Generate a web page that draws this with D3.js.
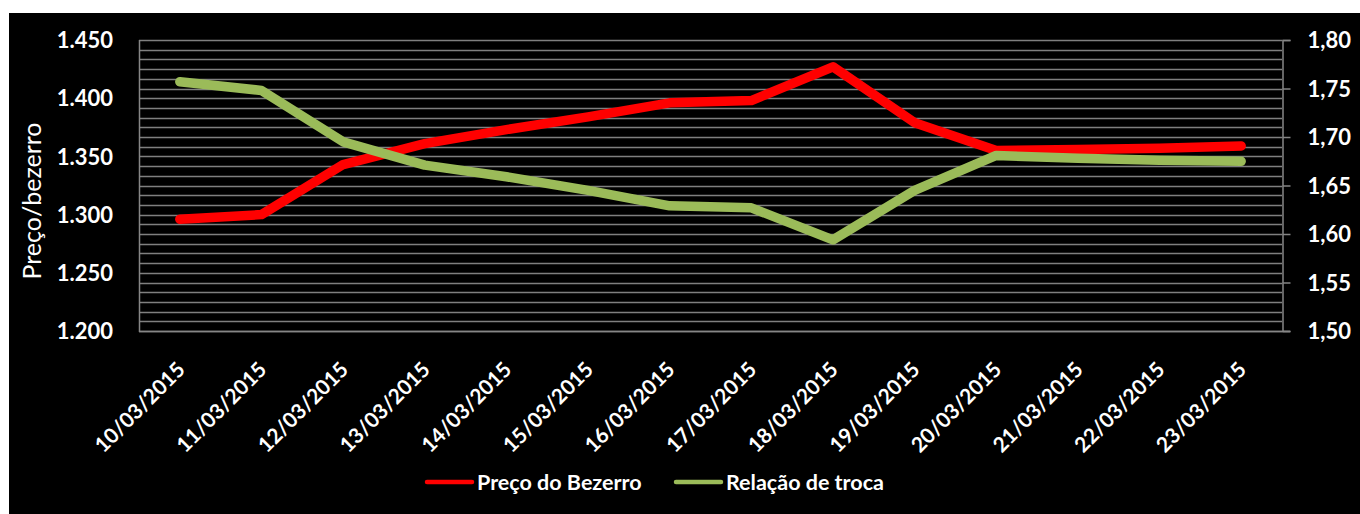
<!DOCTYPE html>
<html>
<head>
<meta charset="utf-8">
<script src="https://cdn.jsdelivr.net/npm/d3@7/dist/d3.min.js"></script>
<style>
  html, body { margin: 0; padding: 0; background: #ffffff; }
  svg { display: block; }
  text { font-family: Lato, "Open Sans", sans-serif; fill: #ffffff; }
</style>
</head>
<body>
<svg id="chart" width="1360" height="514"></svg>
<script>
const categories = ["10/03/2015","11/03/2015","12/03/2015","13/03/2015","14/03/2015","15/03/2015","16/03/2015","17/03/2015","18/03/2015","19/03/2015","20/03/2015","21/03/2015","22/03/2015","23/03/2015"];
const precoBezerro = [1296, 1300, 1343, 1361, 1373, 1384, 1396, 1398, 1427, 1379, 1355, 1356, 1357, 1359];
const relacaoTroca = [1.757, 1.748, 1.695, 1.671, 1.659, 1.645, 1.629, 1.627, 1.594, 1.645, 1.681, 1.678, 1.676, 1.675];
const leftTicks = [1200, 1250, 1300, 1350, 1400, 1450];
const leftTickLabels = ["1.200","1.250","1.300","1.350","1.400","1.450"];
const rightTicks = [1.50, 1.55, 1.60, 1.65, 1.70, 1.75, 1.80];
const rightTickLabels = ["1,50","1,55","1,60","1,65","1,70","1,75","1,80"];
const seriesNames = ["Preço do Bezerro", "Relação de troca"];
const seriesColors = ["#ff0000", "#9bbb59"];
const yTitle = "Preço/bezerro";

const svg = d3.select("#chart");
const plot = { left: 139, right: 1282, top: 40, bottom: 331 };

// black chart area
svg.append("rect").attr("x", 9).attr("y", 13).attr("width", 1351).attr("height", 501).attr("fill", "#000000");

const x = d3.scalePoint().domain(categories).range([plot.left, plot.right]).padding(0.5);
const yL = d3.scaleLinear().domain([1200, 1450]).range([plot.bottom, plot.top]);
const yR = d3.scaleLinear().domain([1.5, 1.8]).range([plot.bottom, plot.top]);

// gridlines (minor every 0.01 on right axis)
const gridVals = d3.range(0, 31).map(i => 1.5 + i * 0.01);
svg.append("g").selectAll("line").data(gridVals).join("line")
  .attr("x1", plot.left).attr("x2", plot.right)
  .attr("y1", d => Math.round(yR(d)) + 0.5).attr("y2", d => Math.round(yR(d)) + 0.5)
  .attr("stroke", "#7f7f7f").attr("stroke-width", 1.3);

// axis lines
svg.append("line").attr("x1", plot.left + 0.5).attr("x2", plot.left + 0.5)
  .attr("y1", plot.top).attr("y2", plot.bottom + 1).attr("stroke", "#868686").attr("stroke-width", 1.5);
svg.append("line").attr("x1", plot.left).attr("x2", plot.right + 8)
  .attr("y1", plot.bottom + 0.5).attr("y2", plot.bottom + 0.5).attr("stroke", "#868686").attr("stroke-width", 1.5);

// right axis with ticks
const rightAxis = d3.axisRight(yR).tickValues(rightTicks)
  .tickFormat((d, i) => rightTickLabels[i]).tickSize(8).tickPadding(17);
const gR = svg.append("g").attr("transform", `translate(${plot.right + 0.5},0)`).call(rightAxis);
gR.select(".domain").attr("stroke", "#868686").attr("stroke-width", 1.5);
gR.selectAll(".tick line").attr("stroke", "#868686").attr("stroke-width", 1.5);
gR.selectAll(".tick text").attr("fill", "#ffffff").style("font-family", "Lato, sans-serif")
  .style("font-size", "22px").style("font-weight", "bold").attr("dy", "0.35em");

// left axis
const leftAxis = d3.axisLeft(yL).tickValues(leftTicks)
  .tickFormat((d, i) => leftTickLabels[i]).tickSize(0).tickPadding(26);
const gL = svg.append("g").attr("transform", `translate(${plot.left},0)`).call(leftAxis);
gL.select(".domain").remove();
gL.selectAll(".tick text").attr("fill", "#ffffff").style("font-family", "Lato, sans-serif")
  .style("font-size", "22px").style("font-weight", "bold").attr("dy", "0.35em");

// bottom axis labels
const bottomAxis = d3.axisBottom(x).tickSize(0).tickPadding(0);
const gB = svg.append("g").attr("transform", `translate(0,${plot.bottom})`).call(bottomAxis);
gB.select(".domain").remove();
gB.selectAll(".tick text")
  .attr("fill", "#ffffff")
  .style("font-family", "Lato, sans-serif").style("font-size", "21px").style("font-weight", "bold")
  .attr("text-anchor", "end")
  .attr("dy", "0")
  .attr("y", 0)
  .attr("transform", "translate(6,40) rotate(-45)");

// y-axis title
svg.append("text")
  .attr("transform", `translate(41,${201}) rotate(-90)`)
  .attr("text-anchor", "middle")
  .style("font-size", "25px")
  .text(yTitle);

// lines
const lineL = d3.line().x((d, i) => x(categories[i])).y(d => yL(d));
const lineR = d3.line().x((d, i) => x(categories[i])).y(d => yR(d));
svg.append("path").datum(precoBezerro).attr("d", lineL)
  .attr("fill", "none").attr("stroke", seriesColors[0]).attr("stroke-width", 9.5)
  .attr("stroke-linecap", "round").attr("stroke-linejoin", "round");
svg.append("path").datum(relacaoTroca).attr("d", lineR)
  .attr("fill", "none").attr("stroke", seriesColors[1]).attr("stroke-width", 9.5)
  .attr("stroke-linecap", "round").attr("stroke-linejoin", "round");

// legend
const legendItems = [{ x: 427, name: seriesNames[0], color: seriesColors[0] },
                     { x: 676, name: seriesNames[1], color: seriesColors[1] }];
const lg = svg.append("g");
legendItems.forEach(it => {
  lg.append("line").attr("x1", it.x).attr("x2", it.x + 45).attr("y1", 482).attr("y2", 482)
    .attr("stroke", it.color).attr("stroke-width", 4.5).attr("stroke-linecap", "round");
  lg.append("text").attr("x", it.x + 50).attr("y", 482).attr("dy", "0.35em")
    .style("font-size", "21.5px").style("font-weight", "bold").text(it.name);
});
</script>
</body>
</html>
